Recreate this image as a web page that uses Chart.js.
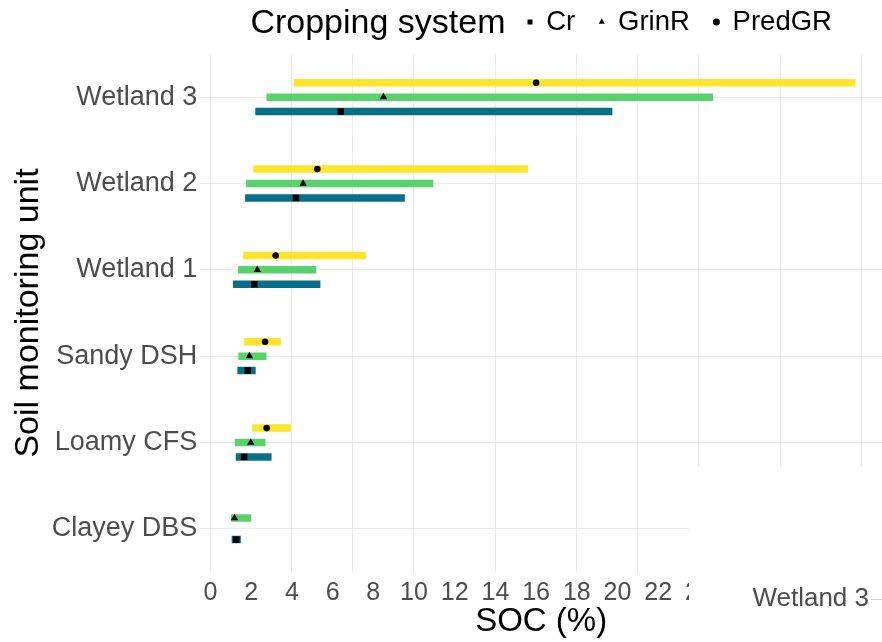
<!DOCTYPE html>
<html>
<head>
<meta charset="utf-8">
<script src="https://cdn.jsdelivr.net/npm/chart.js@4.4.1/dist/chart.umd.min.js"></script>
<style>
  html, body { margin: 0; padding: 0; background: #fff; }
  #wrap { width: 882px; height: 642px; }
</style>
</head>
<body>
<div id="wrap"><canvas id="soc"></canvas></div>
<script>
// unidades de monitoreo (de arriba hacia abajo)
const units = ["Wetland 3", "Wetland 2", "Wetland 1", "Sandy DSH", "Loamy CFS", "Clayey DBS"];

// PredGR
const predLow  = [4.1, 2.1, 1.6, 1.65, 2.05, null];
const predHigh = [31.7, 15.6, 7.65, 3.47, 3.95, null];
const predMean = [16.0, 5.25, 3.2, 2.68, 2.76, null];

// GrinR
const grinLow  = [2.75, 1.75, 1.35, 1.37, 1.19, 1.0];
const grinHigh = [24.7, 10.95, 5.2, 2.75, 2.7, 2.0];
const grinMean = [8.5, 4.55, 2.3, 1.91, 1.98, 1.18];

// Cr
const crLow  = [2.2, 1.7, 1.1, 1.32, 1.24, 1.04];
const crHigh = [19.75, 9.55, 5.4, 2.22, 3.0, 1.49];
const crMean = [6.4, 4.2, 2.15, 1.83, 1.65, 1.26];

const xTickValues = [0, 2, 4, 6, 8, 10, 12, 14, 16, 18, 20, 22, 24, 26, 28, 30, 32];
const xGridValues = [0, 4, 7, 10, 14, 18, 21, 24, 28, 32];

const FONT = "'Liberation Sans', Arial, sans-serif";
const legendTitleText = "Cropping system";

function ranges(lo, hi) {
    return lo.map((v, i) => (v === null ? null : [v, hi[i]]));
}

// marcadores de la media sobre cada barra
const meanMarkers = {
    id: 'meanMarkers',
    afterDatasetsDraw(chart) {
        const ctx = chart.ctx;
        const xs = chart.scales.x;
        chart.data.datasets.forEach((ds, i) => {
            const meta = chart.getDatasetMeta(i);
            meta.data.forEach((bar, j) => {
                const m = ds.means[j];
                if (m === null || m === undefined) return;
                ctx.save();
                ctx.fillStyle = '#000';
                Chart.helpers.drawPoint(ctx, {
                    pointStyle: ds.marker,
                    radius: ds.markerRadius,
                    rotation: 0,
                    borderWidth: 0
                }, xs.getPixelForValue(m), bar.y);
                ctx.restore();
            });
        });
    }
};

// titulo de la leyenda en la misma linea que los items
const legendTitle = {
    id: 'legendTitle',
    afterLayout(chart) {
        const lg = chart.legend;
        const ca = chart.chartArea;
        const ctx = chart.ctx;
        ctx.save();
        ctx.font = "34px " + FONT;
        const tw = ctx.measureText(legendTitleText).width;
        ctx.restore();
        const pad = lg.options.labels.padding;
        const half = lg.options.labels.font.size / 2;
        const gap = 22;
        const itemsW = lg.lineWidths[0] - pad;
        const start = (ca.left + ca.right) / 2 - (tw + gap + itemsW) / 2;
        const w = lg.right - lg.left;
        lg.left = start + tw + gap - pad;
        lg.right = lg.left + w;
        const h = lg.bottom - lg.top;
        lg.top = 22 - half - pad;
        lg.bottom = lg.top + h;
        lg._titleX = start;
        lg._titleY = 24;
    },
    afterDraw(chart) {
        const lg = chart.legend;
        const ctx = chart.ctx;
        ctx.save();
        ctx.font = "34px " + FONT;
        ctx.fillStyle = '#000';
        ctx.textAlign = 'left';
        ctx.textBaseline = 'middle';
        ctx.fillText(legendTitleText, lg._titleX, lg._titleY);
        ctx.restore();
    }
};

// recuadro blanco abajo a la derecha con la etiqueta suelta
const cornerBox = {
    id: 'cornerBox',
    afterDraw(chart) {
        const ctx = chart.ctx;
        const ca = chart.chartArea;
        const left = ca.right - 193;
        const top = ca.bottom - 105;
        ctx.save();
        ctx.fillStyle = '#fff';
        ctx.fillRect(left, top, chart.width - left, chart.height - top);
        ctx.font = "26px " + FONT;
        ctx.fillStyle = '#4d4d4d';
        ctx.textAlign = 'right';
        ctx.textBaseline = 'middle';
        ctx.fillText(units[0], ca.right - 13, ca.bottom + 27);
        ctx.strokeStyle = '#cfcfcf';
        ctx.lineWidth = 1;
        ctx.beginPath();
        ctx.moveTo(ca.right - 11, ca.bottom + 27.5);
        ctx.lineTo(ca.right, ca.bottom + 27.5);
        ctx.stroke();
        ctx.restore();
    }
};

const data = {
    labels: units,
    datasets: [
        {
            label: 'PredGR',
            data: ranges(predLow, predHigh),
            means: predMean,
            marker: 'circle',
            markerRadius: 3.3,
            backgroundColor: '#FDE52C'
        },
        {
            label: 'GrinR',
            data: ranges(grinLow, grinHigh),
            means: grinMean,
            marker: 'triangle',
            markerRadius: 4.3,
            backgroundColor: '#58D26A'
        },
        {
            label: 'Cr',
            data: ranges(crLow, crHigh),
            means: crMean,
            marker: 'rect',
            markerRadius: 4.6,
            backgroundColor: '#086F88'
        }
    ]
};

const chart = new Chart(document.getElementById('soc'), {
    type: 'bar',
    data: data,
    plugins: [meanMarkers, legendTitle, cornerBox],
    options: {
        indexAxis: 'y',
        responsive: true,
        maintainAspectRatio: false,
        animation: false,
        events: [],
        skipNull: true,
        categoryPercentage: 0.5,
        barPercentage: 0.52,
        maxBarThickness: 7.5,
        borderWidth: 0,
        borderSkipped: false,
        layout: { padding: { top: 3 } },
        plugins: {
            tooltip: { enabled: false },
            legend: {
                position: 'top',
                align: 'start',
                maxHeight: 51,
                labels: {
                    usePointStyle: true,
                    boxWidth: 5,
                    boxHeight: 5,
                    padding: 24,
                    color: '#000',
                    font: { family: FONT, size: 27.5 },
                    generateLabels(c) {
                        // orden de la leyenda: Cr, GrinR, PredGR
                        return [2, 1, 0].map(i => ({
                            text: c.data.datasets[i].label,
                            fillStyle: '#000',
                            strokeStyle: '#000',
                            lineWidth: 0,
                            pointStyle: c.data.datasets[i].marker,
                            datasetIndex: i,
                            hidden: false
                        }));
                    }
                }
            }
        },
        scales: {
            x: {
                type: 'linear',
                min: -0.5,
                max: 33,
                afterBuildTicks: s => { s.ticks = xTickValues.map(v => ({ value: v })); },
                grid: { display: false, drawTicks: false },
                border: { display: false },
                ticks: {
                    color: '#4d4d4d',
                    padding: 3,
                    font: { family: FONT, size: 25, lineHeight: 1.44 }
                },
                title: {
                    display: true,
                    text: 'SOC (%)',
                    color: '#000',
                    font: { family: FONT, size: 33, lineHeight: 0.485 },
                    padding: { top: 0, bottom: 12 }
                }
            },
            xg: {
                type: 'linear',
                axis: 'x',
                position: 'bottom',
                min: -0.5,
                max: 33,
                afterBuildTicks: s => { s.ticks = xGridValues.map(v => ({ value: v })); },
                ticks: { display: false },
                border: { display: false },
                grid: { color: '#ebebeb', lineWidth: 1, drawTicks: false }
            },
            y: {
                type: 'category',
                offset: true,
                grid: { color: '#ebebeb', offset: false, drawTicks: false },
                border: { display: false },
                ticks: {
                    color: '#4d4d4d',
                    padding: 3,
                    font: { family: FONT, size: 27 }
                },
                title: {
                    display: true,
                    text: 'Soil monitoring unit',
                    color: '#000',
                    font: { family: FONT, size: 34 },
                    padding: { top: 8, bottom: 0 }
                }
            }
        }
    }
});
</script>
</body>
</html>
